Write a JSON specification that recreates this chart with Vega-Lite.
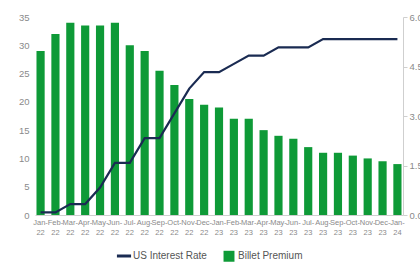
{
  "$schema": "https://vega.github.io/schema/vega-lite/v6.json",
  "width": 368,
  "height": 198,
  "autosize": {"type": "none"},
  "padding": {"left": 35, "top": 17, "right": 17, "bottom": 50},
  "config": {
    "view": {"stroke": null},
    "font": "Liberation Sans",
    "axis": {"grid": false, "labelColor": "#8a8a8a", "domainColor": "#cfcfcf", "tickColor": "#cfcfcf", "labelFont": "Liberation Sans"},
    "legend": {"labelFont": "Liberation Sans", "labelColor": "#555555", "labelFontSize": 10, "title": null}
  },
  "data": {"values": [
    {"month": "Jan-22", "premium": 29, "rate": 0.08},
    {"month": "Feb-22", "premium": 32, "rate": 0.08},
    {"month": "Mar-22", "premium": 34, "rate": 0.33},
    {"month": "Apr-22", "premium": 33.5, "rate": 0.33},
    {"month": "May-22", "premium": 33.5, "rate": 0.83},
    {"month": "Jun-22", "premium": 34, "rate": 1.58},
    {"month": "Jul-22", "premium": 30, "rate": 1.58},
    {"month": "Aug-22", "premium": 29, "rate": 2.33},
    {"month": "Sep-22", "premium": 25.5, "rate": 2.33},
    {"month": "Oct-22", "premium": 23, "rate": 3.08},
    {"month": "Nov-22", "premium": 20.5, "rate": 3.83},
    {"month": "Dec-22", "premium": 19.5, "rate": 4.33},
    {"month": "Jan-23", "premium": 19, "rate": 4.33},
    {"month": "Feb-23", "premium": 17, "rate": 4.58},
    {"month": "Mar-23", "premium": 17, "rate": 4.83},
    {"month": "Apr-23", "premium": 15, "rate": 4.83},
    {"month": "May-23", "premium": 14, "rate": 5.08},
    {"month": "Jun-23", "premium": 13.5, "rate": 5.08},
    {"month": "Jul-23", "premium": 12, "rate": 5.08},
    {"month": "Aug-23", "premium": 11, "rate": 5.33},
    {"month": "Sep-23", "premium": 11, "rate": 5.33},
    {"month": "Oct-23", "premium": 10.5, "rate": 5.33},
    {"month": "Nov-23", "premium": 10, "rate": 5.33},
    {"month": "Dec-23", "premium": 9.5, "rate": 5.33},
    {"month": "Jan-24", "premium": 9, "rate": 5.33}
  ]},
  "encoding": {
    "x": {"field": "month", "type": "ordinal", "sort": null,
      "scale": {"paddingInner": 0.45, "paddingOuter": 0.1},
      "axis": {"title": null, "labelAngle": 0, "labelFontSize": 7.5, "ticks": false, "labelPadding": 3,
        "labelExpr": "[slice(datum.label,0,4), slice(datum.label,4)]", "labelLineHeight": 10}}
  },
  "layer": [
    {
      "mark": {"type": "bar"},
      "encoding": {
        "y": {"field": "premium", "type": "quantitative", "scale": {"domain": [0, 35]},
          "axis": {"title": null, "values": [0,5,10,15,20,25,30,35], "domain": false, "ticks": false, "labelFontSize": 9.5, "labelPadding": 6}},
        "color": {"datum": "Billet Premium", "type": "nominal",
          "scale": {"domain": ["US Interest Rate", "Billet Premium"], "range": ["#1a2b52", "#0e9a37"]},
          "legend": {"orient": "none", "legendX": 84, "legendY": 234, "direction": "horizontal", "columnPadding": 16, "symbolSize": 120,
            "encode": {"symbols": {"update": {
              "shape": {"signal": "datum.value === 'US Interest Rate' ? 'stroke' : 'square'"},
              "strokeWidth": {"signal": "datum.value === 'US Interest Rate' ? 3 : 0"},
              "size": {"signal": "datum.value === 'US Interest Rate' ? 200 : 120"},
              "fill": {"signal": "datum.value === 'US Interest Rate' ? 'transparent' : '#0e9a37'"},
              "stroke": {"signal": "datum.value === 'US Interest Rate' ? '#1a2b52' : 'transparent'"}
            }}}}}
      }
    },
    {
      "mark": {"type": "line", "strokeWidth": 2.2},
      "encoding": {
        "y": {"field": "rate", "type": "quantitative", "scale": {"domain": [0, 6]},
          "axis": {"title": null, "orient": "right", "values": [0,1.5,3,4.5,6], "format": ".1f", "labelFontSize": 9.5, "tickSize": 4}},
        "color": {"datum": "US Interest Rate", "type": "nominal"}
      }
    }
  ],
  "resolve": {"scale": {"y": "independent"}}
}
